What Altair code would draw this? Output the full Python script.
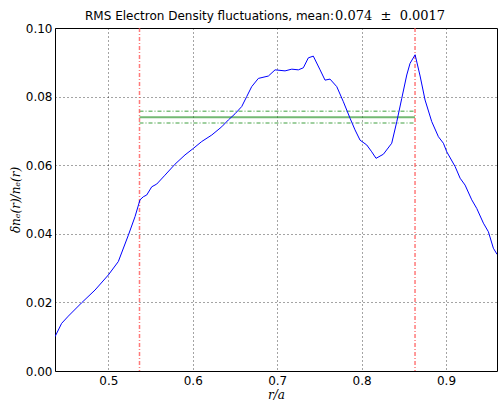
import altair as alt
import pandas as pd

# Blue profile: r/a and RMS delta n_e / n_e
r_vals = [0.4368, 0.4447, 0.4526, 0.4684, 0.4842, 0.5000, 0.5118, 0.5237, 0.5316, 0.5375,
          0.5414, 0.5454, 0.5514, 0.5573, 0.5671, 0.5790, 0.5908, 0.6007, 0.6106, 0.6225,
          0.6343, 0.6422, 0.6501, 0.6580, 0.6639, 0.6698, 0.6777, 0.6896, 0.6975, 0.7093,
          0.7173, 0.7251, 0.7310, 0.7369, 0.7428, 0.7508, 0.7567, 0.7626, 0.7706, 0.7784,
          0.7863, 0.7922, 0.7982, 0.8061, 0.8120, 0.8171, 0.8258, 0.8357, 0.8417, 0.8476,
          0.8535, 0.8574, 0.8634, 0.8693, 0.8752, 0.8831, 0.8910, 0.8969, 0.9009, 0.9108,
          0.9167, 0.9226, 0.9305, 0.9364, 0.9443, 0.9502, 0.9561, 0.9605]
dn_vals = [0.0100, 0.0139, 0.0160, 0.0199, 0.0236, 0.0280, 0.0319, 0.0396, 0.0450, 0.0499,
           0.0508, 0.0513, 0.0537, 0.0545, 0.0571, 0.0603, 0.0630, 0.0649, 0.0669, 0.0688,
           0.0712, 0.0732, 0.0750, 0.0771, 0.0800, 0.0829, 0.0853, 0.0860, 0.0878, 0.0875,
           0.0880, 0.0878, 0.0884, 0.0913, 0.0918, 0.0878, 0.0848, 0.0851, 0.0829, 0.0785,
           0.0737, 0.0703, 0.0673, 0.0659, 0.0639, 0.0620, 0.0632, 0.0664, 0.0727, 0.0795,
           0.0863, 0.0897, 0.0922, 0.0860, 0.0790, 0.0727, 0.0683, 0.0664, 0.0639, 0.0596,
           0.0562, 0.0542, 0.0499, 0.0474, 0.0431, 0.0406, 0.0358, 0.0340]

# Averaging window boundaries (red dash-dot verticals)
window_r = [0.5369, 0.8633]

# Mean and uncertainty
mean_val = 0.074
mean_err = 0.0017

x_domain = [0.4368, 0.9604]
y_domain = [0.0, 0.10]
x_ticks = [0.5, 0.6, 0.7, 0.8, 0.9]
y_ticks = [0.00, 0.02, 0.04, 0.06, 0.08, 0.10]

prof = pd.DataFrame({"r": r_vals, "dn": dn_vals})
win = pd.DataFrame({"r": window_r})
band = pd.DataFrame({
    "r1": [window_r[0]] * 2,
    "r2": [window_r[1]] * 2,
    "y": [mean_val + mean_err, mean_val - mean_err],
})
meanline = pd.DataFrame({"r1": [window_r[0]], "r2": [window_r[1]], "y": [mean_val]})

xs = alt.Scale(domain=x_domain, nice=False, zero=False)
ys = alt.Scale(domain=y_domain, nice=False, zero=False)

xaxis = alt.Axis(values=x_ticks, format=".1f", title="r/a", ticks=False,
                 labelPadding=4, grid=True, titleFont="DejaVu Serif",
                 titleFontStyle="italic", titleFontWeight="normal", titleFontSize=12,
                 titleY=23, titleBaseline="middle")
yaxis = alt.Axis(values=y_ticks, format=".2f", title="δnₑ(r)/nₑ(r)", ticks=False,
                 labelPadding=3, grid=True, titleFont="DejaVu Serif",
                 titleFontStyle="italic", titleFontWeight="normal", titleFontSize=12,
                 titleX=-40, titleY=171.5, titleAngle=-90, titleAlign="center",
                 titleBaseline="middle")

line = alt.Chart(prof).mark_line(color="#0000ff", strokeWidth=1, clip=True).encode(
    x=alt.X("r:Q", scale=xs, axis=xaxis),
    y=alt.Y("dn:Q", scale=ys, axis=yaxis),
)

red = alt.Chart(win).mark_rule(color="#ff4d4d", opacity=0.75, strokeWidth=1.5,
                               strokeDash=[4, 2, 1, 2]).encode(
    x=alt.X("r:Q", scale=xs)
)

green_band = alt.Chart(band).mark_rule(color="#008000", opacity=0.5, strokeWidth=1.5,
                                       strokeDash=[4, 2, 1, 2]).encode(
    x=alt.X("r1:Q", scale=xs), x2="r2:Q", y=alt.Y("y:Q", scale=ys)
)
green_mean = alt.Chart(meanline).mark_rule(color="#008000", opacity=0.55,
                                           strokeWidth=2).encode(
    x=alt.X("r1:Q", scale=xs), x2="r2:Q", y=alt.Y("y:Q", scale=ys)
)

title_a = alt.Chart(pd.DataFrame({"t": ["RMS Electron Density fluctuations, mean:"]})).mark_text(
    font="DejaVu Sans", fontSize=12, align="right", baseline="alphabetic", color="#000"
).encode(text="t:N", x=alt.value(279), y=alt.value(-8))
title_b = alt.Chart(pd.DataFrame({"t": ["0.074\u00a0\u00a0±\u00a0\u00a00.0017"]})).mark_text(
    font="DejaVu Serif", fontSize=13, align="left", baseline="alphabetic", color="#000"
).encode(text="t:N", x=alt.value(280), y=alt.value(-8))

chart = alt.layer(green_band, green_mean, red, line, title_a, title_b).properties(
    width=442, height=343,
    background="white",
    autosize=alt.AutoSizeParams(type="none"),
    padding={"left": 55, "top": 28, "right": 1, "bottom": 29},
).configure_view(stroke="#000", strokeWidth=1).configure_axis(
    gridColor="#000", gridDash=[1, 3], gridWidth=0.8, gridOpacity=0.9,
    domain=False, labelFont="DejaVu Sans", labelFontSize=12, labelColor="#000",
    titleColor="#000"
)

chart.save("out.html", embed_options={"renderer": "svg", "actions": False})
